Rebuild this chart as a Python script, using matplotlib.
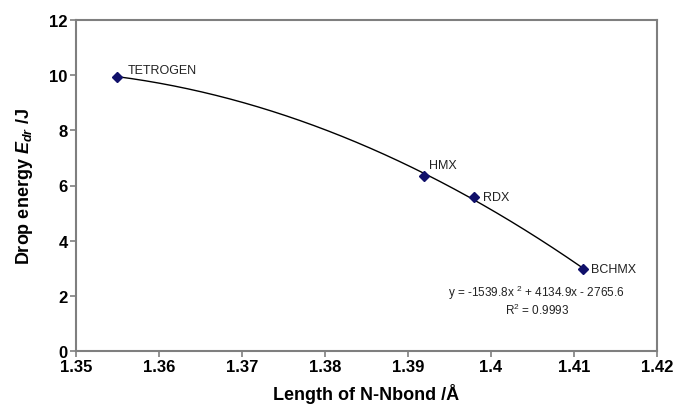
import numpy as np
import matplotlib
matplotlib.use("Agg")
import matplotlib.pyplot as plt

compounds = ["TETROGEN", "HMX", "RDX", "BCHMX"]
bond_length = [1.355, 1.3919, 1.398, 1.4111]
drop_energy = [9.95, 6.35, 5.59, 2.97]
x_ticks = [1.35, 1.36, 1.37, 1.38, 1.39, 1.40, 1.41, 1.42]
x_tick_labels = ["1.35", "1.36", "1.37", "1.38", "1.39", "1.4", "1.41", "1.42"]
y_ticks = [0, 2, 4, 6, 8, 10, 12]
equation_text = "y = -1539.8x $^{2}$ + 4134.9x - 2765.6"
r2_text = "R$^{2}$ = 0.9993"

plt.rcParams['font.family'] = ['Liberation Sans', 'DejaVu Sans']
plt.rcParams['mathtext.fontset'] = 'custom'
plt.rcParams['mathtext.rm'] = 'Liberation Sans'
plt.rcParams['mathtext.it'] = 'Liberation Sans:italic:bold'
plt.rcParams['mathtext.bf'] = 'Liberation Sans:bold'

fig = plt.figure(figsize=(6.73, 4.14), dpi=100)
ax = fig.add_axes([76/673, 62/414, 581/673, 331/414])

# trendline (2nd-order polynomial fit, as in the source)
coef = np.polyfit(bond_length, drop_energy, 2)
xs = np.linspace(min(bond_length), max(bond_length), 200)
ax.plot(xs, np.polyval(coef, xs), color='black', lw=1.0, zorder=2)

ax.plot(bond_length, drop_energy, linestyle='none', marker='D', markersize=5.5,
        color='#10106a', markeredgecolor='#10106a', zorder=3)

offsets = {"TETROGEN": (7, 5), "HMX": (4, 8), "RDX": (6, 0), "BCHMX": (6, 0)}
for name, xv, yv in zip(compounds, bond_length, drop_energy):
    ax.annotate(name, (xv, yv), xytext=offsets[name], textcoords='offset points',
                fontsize=9, color='#222222', ha='left', va='center')

ax.text(1.4054, 2.14, equation_text, fontsize=8.5, ha='center', va='center', color='#222222')
ax.text(1.4056, 1.52, r2_text, fontsize=8.5, ha='center', va='center', color='#222222')

ax.set_xlim(1.35, 1.42)
ax.set_ylim(0, 12)
ax.set_xticks(x_ticks)
ax.set_xticklabels(x_tick_labels)
ax.set_yticks(y_ticks)

for sp in ax.spines.values():
    sp.set_color('#7f7f7f')
    sp.set_linewidth(1.5)
ax.tick_params(direction='out', length=4, width=1.2, color='#7f7f7f', labelsize=12, pad=2)
for lbl in ax.get_xticklabels() + ax.get_yticklabels():
    lbl.set_fontweight('bold')

ax.set_xlabel("Length of N-Nbond /Å", fontsize=13, fontweight='bold', labelpad=6)
ax.set_ylabel(r"Drop energy $E_{dr}$ /J", fontsize=13, fontweight='bold', labelpad=10)

fig.savefig("out.png", dpi=100)
